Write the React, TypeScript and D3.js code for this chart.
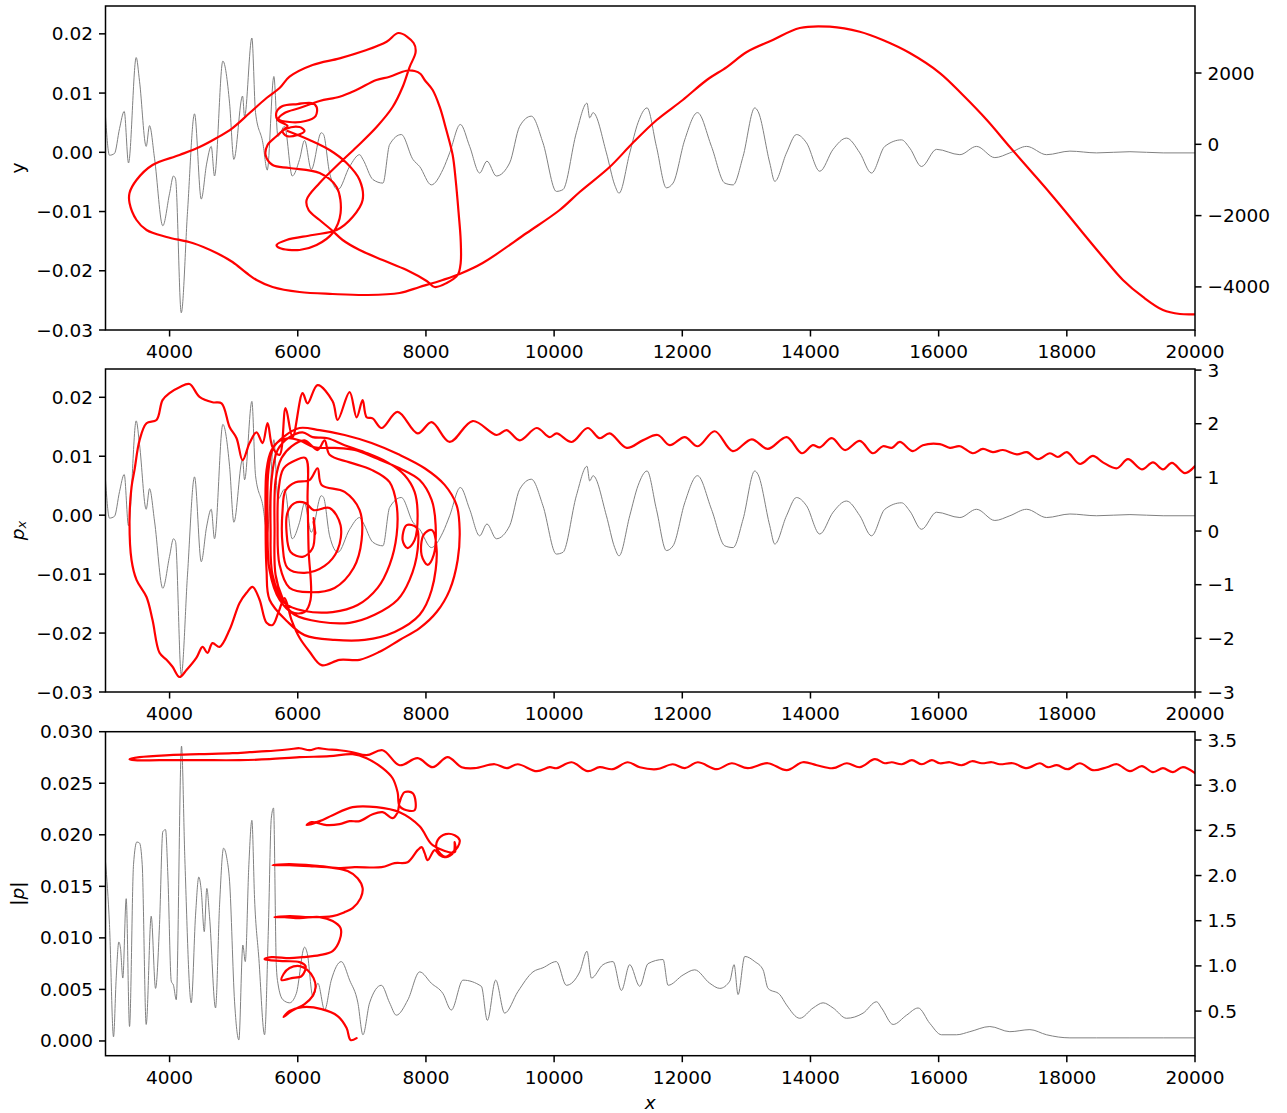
import React from 'react';
import * as d3 from 'd3';

const W = 1287;
const H = 1113;
const X0 = 105.5;
const X1 = 1195;

const xTickValues = [4000, 6000, 8000, 10000, 12000, 14000, 16000, 18000, 20000];

// y(x) signal, shown in grey in the top two panels (left axis)
const ySignal: [number, number][] = [
  [3000, 0.006], [3062, -0.0005], [3140, -0.0002], [3219, 0.004], [3292, 0.0069], [3359, -0.0018],
  [3479, 0.016], [3531, 0.012], [3635, 0.001], [3687, 0.0045], [3765, -0.001], [3894, -0.0124],
  [3999, -0.007], [4061, -0.004], [4093, -0.0045], [4182, -0.0271], [4280, -0.01], [4389, 0.0065],
  [4494, -0.0079], [4577, -0.002], [4650, 0.001], [4701, -0.004], [4831, 0.0154], [4936, 0.0083],
  [5003, -0.0012], [5139, 0.0095], [5170, 0.006], [5284, 0.0193], [5341, 0.0067], [5455, 0.0016],
  [5524, -0.003], [5627, 0.0128], [5690, 0.0027], [5794, 0.0044], [5914, -0.004], [6028, -0.0012],
  [6106, 0.002], [6211, -0.0029], [6367, 0.0033], [6403, 0.003], [6497, -0.0035], [6626, -0.0063],
  [6809, -0.0024], [6965, -0.0004], [7017, -0.0012], [7173, -0.0046], [7329, -0.0052], [7433, 0.0013],
  [7616, 0.003], [7797, -0.0012], [7902, -0.0024], [8084, -0.0055], [8265, -0.0029], [8370, -0.0001],
  [8537, 0.0047], [8682, 0.001], [8838, -0.0035], [8952, -0.0015], [9099, -0.004], [9306, -0.0018],
  [9463, 0.0044], [9645, 0.0061], [9826, 0.0016], [10035, -0.0066], [10138, -0.0063], [10347, 0.0033],
  [10513, 0.0083], [10555, 0.0058], [10607, 0.0067], [10816, -0.0001], [10945, -0.0055], [11013, -0.0069],
  [11180, -0.0001], [11309, 0.005], [11450, 0.0075], [11596, 0.001], [11752, -0.006], [11856, -0.0052],
  [12038, 0.0021], [12237, 0.0067], [12455, 0.001], [12663, -0.0052], [12792, -0.0055], [12948, -0.0007],
  [13131, 0.0075], [13182, 0.0069], [13365, -0.0018], [13443, -0.0049], [13626, -0.0001], [13782, 0.003],
  [13938, 0.0016], [14145, -0.0032], [14353, 0.0005], [14562, 0.0024], [14770, -0.0001], [14952, -0.0035],
  [15160, 0.001], [15421, 0.0021], [15550, 0.0007], [15733, -0.0024], [15967, 0.0005], [16331, -0.0004],
  [16591, 0.001], [16877, -0.0009], [17111, -0.0001], [17372, 0.001], [17684, -0.0004], [18048, 0.0002],
  [18465, -0.0001], [18985, 0.0001], [19504, -0.0001], [20000, -0.0001],
];

// |p|(x) signal, grey in the bottom panel (left axis)
const pSignal: [number, number][] = [
  [3000, 0.0174], [3062, 0.0113], [3125, 0.0004], [3167, 0.0061], [3208, 0.0096], [3234, 0.009],
  [3270, 0.0061], [3323, 0.0138], [3375, 0.0014], [3437, 0.0171], [3489, 0.0193], [3531, 0.0192],
  [3573, 0.0171], [3635, 0.0016], [3713, 0.0121], [3781, 0.0051], [3843, 0.0113], [3894, 0.0203],
  [3937, 0.0205], [3973, 0.0161], [4026, 0.0058], [4061, 0.0054], [4104, 0.004], [4186, 0.0286],
  [4238, 0.0177], [4338, 0.0037], [4405, 0.0122], [4456, 0.0159], [4494, 0.0146], [4541, 0.0106],
  [4581, 0.0148], [4623, 0.0121], [4717, 0.0032], [4780, 0.0132], [4842, 0.0187], [4894, 0.0177],
  [4936, 0.0155], [5014, 0.0038], [5081, 0.0001], [5143, 0.0093], [5181, 0.0077], [5237, 0.0171],
  [5284, 0.0214], [5326, 0.0138], [5393, 0.008], [5482, 0.0006], [5540, 0.0106], [5587, 0.0216],
  [5622, 0.0226], [5665, 0.0074], [5690, 0.0056], [5768, 0.004], [5872, 0.0037], [5977, 0.0046],
  [6106, 0.0091], [6148, 0.0085], [6236, 0.0043], [6314, 0.0056], [6419, 0.003], [6523, 0.0059],
  [6679, 0.0077], [6809, 0.0059], [6938, 0.0037], [7017, 0.0006], [7121, 0.0037], [7304, 0.0054],
  [7433, 0.0037], [7538, 0.0025], [7719, 0.004], [7902, 0.0067], [8084, 0.0056], [8265, 0.0046],
  [8396, 0.003], [8578, 0.0059], [8865, 0.0053], [8958, 0.002], [9088, 0.0059], [9228, 0.0027],
  [9436, 0.0048], [9670, 0.0067], [9826, 0.0071], [10035, 0.0077], [10191, 0.0054], [10399, 0.0067],
  [10513, 0.0087], [10582, 0.0061], [10763, 0.0074], [10919, 0.0077], [11050, 0.0049], [11180, 0.0074],
  [11336, 0.0053], [11465, 0.0075], [11700, 0.0079], [11778, 0.0054], [12012, 0.0064], [12194, 0.0069],
  [12428, 0.0056], [12585, 0.0051], [12741, 0.0058], [12808, 0.0074], [12870, 0.0045], [12975, 0.0082],
  [13131, 0.0077], [13260, 0.0069], [13338, 0.0051], [13521, 0.0045], [13626, 0.0035], [13833, 0.0022],
  [14041, 0.0032], [14197, 0.0037], [14353, 0.0032], [14562, 0.0022], [14821, 0.0027], [15031, 0.0038],
  [15109, 0.0032], [15290, 0.0016], [15499, 0.0025], [15680, 0.0032], [15863, 0.0017], [16045, 0.0006],
  [16280, 0.0006], [16487, 0.0009], [16799, 0.0014], [17111, 0.0009], [17424, 0.0011], [17684, 0.0006],
  [18048, 0.0003], [18465, 0.0003], [18985, 0.0003], [19504, 0.0003], [20000, 0.0003],
];

// trajectory in (x, y), red in the top panel (right axis)
const yOrbit: [number, number][] = [
  [5841, 373], [6184, 121], [6497, -160], [6762, -525], [6965, -1001], [7012, -1562], [6856, -2039],
  [6606, -2404], [6231, -2544], [5825, -2684], [5669, -2825], [5716, -2909], [6028, -2965], [6294, -2825],
  [6544, -2488], [6668, -1927], [6606, -1198], [6341, -805], [5872, -665], [5607, -581], [5498, -300],
  [5529, -20], [5654, 205], [5810, 429], [6028, 485], [6106, 373], [5997, 261], [5825, 233], [5763, 373],
  [5841, 513], [5685, 682], [5669, 906], [5763, 1074], [5997, 1130], [6216, 1158], [6294, 1046],
  [6278, 794], [6122, 654], [5872, 626], [5700, 710], [5794, 878], [6028, 1018], [6341, 1215],
  [6653, 1335], [6913, 1523], [7226, 1804], [7433, 1896], [7694, 2064], [7823, 2056], [7917, 1972],
  [7980, 1804], [8105, 1523], [8214, 1055], [8318, 401], [8417, -300], [8464, -1001], [8510, -1927],
  [8542, -2684], [8542, -3330], [8495, -3666], [8323, -3891], [8136, -4003], [8011, -3834], [7699, -3526],
  [7324, -3245], [6965, -2965], [6700, -2684], [6528, -2404], [6341, -2123], [6169, -1843], [6138, -1562],
  [6341, -1086], [6653, -525], [6918, -76], [7230, 485], [7480, 1046], [7636, 1607], [7745, 2168],
  [7839, 2589], [7808, 2842], [7574, 3122], [7386, 2878], [7074, 2645], [6653, 2412], [6231, 2224],
  [5872, 1896], [5716, 1579], [5513, 1299], [5248, 878], [4982, 457], [4733, 177], [4467, -76],
  [4155, -300], [3734, -581], [3484, -1001], [3375, -1366], [3375, -1647], [3484, -2123], [3640, -2404],
  [3952, -2600], [4358, -2769], [4733, -3049], [4982, -3302], [5201, -3610], [5357, -3806], [5607, -4003],
  [6028, -4143], [6544, -4199], [7074, -4227], [7589, -4171], [7902, -4003], [8261, -3806], [8526, -3638],
  [8885, -3330], [9572, -2488], [10087, -1843], [10399, -1338], [10867, -637], [11226, 36], [11601, 682],
  [12007, 1243], [12382, 1804], [12694, 2168], [13006, 2589], [13412, 2926], [13833, 3262], [14302, 3299],
  [14770, 3158], [15129, 2926], [15550, 2561], [16019, 2000], [16378, 1383], [16752, 682], [17111, -76],
  [17424, -721], [17736, -1366], [18048, -2039], [18251, -2488], [18563, -3161], [18875, -3806],
  [19188, -4283], [19500, -4648], [19765, -4760], [20000, -4769],
];

// trajectory in (x, p_x), red in the middle panel (right axis)
const pxOrbit: [number, number][] = [
  [6247, 0.24], [6278, -0.06], [6247, 0.17], [6262, 0.02],
  [6231, -0.32], [6075, -0.48], [5888, -0.39], [5825, -0.02], [5841, 0.35], [5950, 0.52], [6122, 0.52], [6247, 0.39],
  [6497, 0.43], [6668, 0.11], [6622, -0.35], [6419, -0.65], [6106, -0.78], [5841, -0.69], [5763, -0.26],
  [5763, 0.39], [5810, 0.76], [5966, 0.91], [6184, 0.95], [6309, 1.17], [6372, 0.86],
  [6731, 0.73], [6965, 0.39], [6996, -0.17], [6871, -0.69], [6575, -1.06], [6184, -1.14], [5872, -1.06],
  [5716, -0.63], [5685, 0.11], [5700, 0.76], [5779, 1.17], [5966, 1.32], [6122, 1.36],
  [6153, 0.58], [6169, -0.35], [6200, -1.28], [6106, -1.51], [5903, -1.51], [5763, -1.25],
  [5654, -0.82], [5638, 0.02], [5654, 0.95], [5747, 1.36], [5903, 1.58], [6106, 1.69], [6309, 1.51],
  [6419, 1.69], [6497, 1.42], [6809, 1.28], [7152, 1.14], [7433, 0.91], [7543, 0.48], [7543, -0.07],
  [7433, -0.63], [7246, -1.06], [6934, -1.38], [6544, -1.51], [6106, -1.49],
  [5794, -1.34], [5607, -0.82], [5576, 0.02], [5591, 0.95], [5685, 1.51], [5872, 1.75], [6075, 1.84],
  [6231, 1.75], [6466, 1.73], [6731, 1.6], [7043, 1.47], [7402, 1.28], [7667, 1.04], [7823, 0.73],
  [7870, 0.3], [7823, -0.17], [7714, -0.32], [7636, -0.17], [7699, 0.11], [7855, 0.06], [7870, -0.35],
  [7745, -0.91], [7558, -1.28], [7199, -1.56], [6809, -1.71], [6341, -1.69], [5950, -1.56], [5716, -1.28],
  [5560, -0.73], [5529, 0.2], [5544, 1.14], [5638, 1.6], [5841, 1.73], [6028, 1.69], [6262, 1.56],
  [6575, 1.55], [6887, 1.51], [7215, 1.36], [7589, 1.17], [7902, 0.95], [8089, 0.58], [8151, 0.11],
  [8120, -0.45], [8027, -0.63], [7933, -0.45], [7964, -0.07], [8089, 0.02], [8167, -0.35], [8089, -1.1],
  [7902, -1.56], [7511, -1.88], [7043, -2.03], [6575, -2.03], [6106, -1.94], [5841, -1.69],
  [5560, -1.28], [5513, -0.73], [5498, 0.2], [5513, 1.14], [5591, 1.51], [5794, 1.77], [6028, 1.92],
  [6341, 1.88], [6731, 1.79], [7152, 1.64], [7589, 1.42], [7980, 1.17], [8292, 0.86], [8479, 0.48],
  [8526, 0.02], [8495, -0.54], [8370, -1.1], [8167, -1.51], [7902, -1.81], [7589, -2.03], [7277, -2.25],
  [6965, -2.4], [6653, -2.4], [6372, -2.5], [6184, -2.25], [6028, -1.99], [5903, -1.66], [5794, -1.25],
  [5700, -1.51], [5607, -1.75], [5513, -1.71], [5404, -1.28], [5295, -1.04], [5201, -1.15], [5092, -1.34],
  [4936, -1.84], [4780, -2.16], [4670, -2.09], [4592, -2.27], [4514, -2.16], [4420, -2.36], [4264, -2.59],
  [4155, -2.72], [4046, -2.53], [3952, -2.4], [3843, -2.27], [3734, -1.66], [3640, -1.23], [3484, -0.91],
  [3406, -0.54], [3375, 0.2], [3406, 0.82], [3453, 1.14], [3531, 1.69], [3640, 2.01], [3796, 2.07],
  [3890, 2.44], [3999, 2.57], [4155, 2.68], [4311, 2.74], [4467, 2.5], [4670, 2.4], [4811, 2.38],
  [4936, 1.94], [5045, 1.73], [5139, 1.32], [5248, 1.64], [5357, 1.84], [5451, 1.64], [5529, 2.01],
  [5607, 1.56], [5716, 1.42], [5810, 2.29], [5919, 1.75], [6075, 2.57], [6153, 2.38], [6309, 2.72],
  [6544, 2.42], [6622, 2.07], [6809, 2.59], [6918, 2.12], [7012, 2.44], [7074, 2.12], [7168, 2.1],
  [7308, 1.92], [7558, 2.22], [7870, 1.82], [8089, 2.03], [8370, 1.66], [8729, 2.05], [9104, 1.79],
  [9260, 1.88], [9463, 1.69], [9728, 1.92], [9931, 1.75], [10040, 1.82], [10274, 1.66], [10524, 1.92],
  [10711, 1.73], [10867, 1.82], [11133, 1.55], [11383, 1.69], [11617, 1.79], [11804, 1.6], [12038, 1.75],
  [12241, 1.58], [12506, 1.86], [12787, 1.49], [13084, 1.71], [13334, 1.53], [13630, 1.75], [13865, 1.45],
  [14036, 1.6], [14145, 1.56], [14333, 1.73], [14536, 1.51], [14770, 1.68], [14973, 1.45], [15129, 1.58],
  [15270, 1.55], [15394, 1.66], [15597, 1.49], [15753, 1.6], [16019, 1.62], [16175, 1.55], [16331, 1.58],
  [16534, 1.45], [16690, 1.53], [16846, 1.47], [17002, 1.51], [17221, 1.43], [17377, 1.47], [17549, 1.34],
  [17736, 1.45], [17861, 1.38], [18001, 1.47], [18204, 1.25], [18407, 1.4], [18563, 1.28], [18782, 1.17],
  [18954, 1.34], [19172, 1.15], [19344, 1.28], [19500, 1.15], [19640, 1.27], [19843, 1.08], [20000, 1.21],
];

// trajectory in (x, |p|), red in the bottom panel (right axis)
const pOrbit: [number, number][] = [
  [6918, 0.201], [6824, 0.179], [6762, 0.312], [6622, 0.445], [6372, 0.522], [6075, 0.544], [5872, 0.5],
  [5779, 0.434], [5903, 0.5], [6106, 0.577], [6231, 0.666], [6278, 0.766], [6247, 0.865], [6153, 0.954],
  [6028, 0.998], [5872, 0.976], [5779, 0.91], [5747, 0.843], [5903, 0.865], [6060, 0.887], [6122, 0.998],
  [6028, 1.042], [5794, 1.053], [5560, 1.064], [5482, 1.075], [5591, 1.097], [5872, 1.086], [6075, 1.097],
  [6341, 1.119], [6544, 1.164], [6653, 1.285], [6668, 1.418], [6544, 1.496], [6341, 1.54], [6028, 1.529],
  [5794, 1.54], [5638, 1.54], [5872, 1.551], [6184, 1.54], [6544, 1.551], [6731, 1.595], [6856, 1.64],
  [6981, 1.75], [7012, 1.861], [6934, 1.971], [6778, 2.049], [6575, 2.082], [6184, 2.104], [5872, 2.115],
  [5607, 2.115], [5872, 2.126], [6341, 2.104], [6668, 2.082], [6887, 2.093], [7308, 2.093], [7511, 2.137],
  [7714, 2.148], [7870, 2.281], [7933, 2.314], [7980, 2.248], [8027, 2.17], [8136, 2.281], [8214, 2.226],
  [8292, 2.204], [8401, 2.248], [8495, 2.314], [8526, 2.392], [8448, 2.447], [8308, 2.458], [8183, 2.392],
  [8167, 2.303], [8308, 2.204], [8433, 2.259], [8448, 2.369], [8448, 2.259], [8105, 2.336], [7902, 2.546],
  [7589, 2.701], [7230, 2.757], [6856, 2.757], [6544, 2.668], [6341, 2.602], [6138, 2.558], [6216, 2.591],
  [6450, 2.558], [6653, 2.569], [6809, 2.602], [6965, 2.602], [7168, 2.679], [7324, 2.701], [7480, 2.635],
  [7558, 2.701], [7589, 2.812], [7667, 2.923], [7792, 2.912], [7839, 2.812], [7823, 2.723], [7699, 2.723],
  [7589, 2.768], [7558, 2.923], [7480, 3.077], [7324, 3.188], [7074, 3.299], [6856, 3.343], [6497, 3.321],
  [6028, 3.31], [5560, 3.288], [5092, 3.277], [4467, 3.277], [3843, 3.277], [3453, 3.277], [3375, 3.288],
  [3531, 3.31], [3999, 3.332], [4467, 3.343], [4982, 3.354], [5248, 3.365], [5513, 3.376], [5872, 3.398],
  [6028, 3.409], [6184, 3.387], [6309, 3.409], [6450, 3.398], [6653, 3.387], [6856, 3.365], [7074, 3.332],
  [7324, 3.387], [7589, 3.221], [7870, 3.299], [8105, 3.199], [8339, 3.31], [8557, 3.199], [8760, 3.188],
  [9073, 3.232], [9260, 3.188], [9432, 3.232], [9728, 3.155], [9931, 3.199], [10040, 3.188], [10274, 3.254],
  [10524, 3.155], [10711, 3.199], [10914, 3.177], [11148, 3.254], [11336, 3.199], [11601, 3.177],
  [11851, 3.232], [12038, 3.188], [12241, 3.254], [12538, 3.177], [12772, 3.243], [13022, 3.188],
  [13334, 3.243], [13630, 3.166], [13880, 3.254], [14099, 3.221], [14349, 3.188], [14567, 3.243],
  [14770, 3.199], [15004, 3.288], [15160, 3.243], [15269, 3.254], [15426, 3.232], [15582, 3.277],
  [15738, 3.232], [15894, 3.277], [16019, 3.243], [16175, 3.254], [16362, 3.221], [16518, 3.265],
  [16674, 3.243], [16830, 3.254], [16955, 3.232], [17158, 3.243], [17377, 3.188], [17580, 3.243],
  [17705, 3.199], [17845, 3.221], [18017, 3.177], [18204, 3.243], [18407, 3.166], [18626, 3.199],
  [18782, 3.232], [18985, 3.155], [19172, 3.21], [19344, 3.144], [19500, 3.188], [19656, 3.144],
  [19812, 3.199], [20000, 3.133],
];

const yLeftTicks = [0.02, 0.01, 0, -0.01, -0.02, -0.03];
const yRightTicks = [2000, 0, -2000, -4000];
const pxRightTicks = [3, 2, 1, 0, -1, -2, -3];
const pLeftTicks = [0, 0.005, 0.01, 0.015, 0.02, 0.025, 0.03];
const pRightTicks = [0.5, 1.0, 1.5, 2.0, 2.5, 3.0, 3.5];

const FONT = 'DejaVu Sans, Liberation Sans, sans-serif';
const FS = 18.5;
const TICK = 6.5;

type Panel = {
  id: string;
  top: number;
  bottom: number;
  leftDomain: [number, number];
  rightDomain: [number, number];
  leftTicks: number[];
  rightTicks: number[];
  leftFmt: (v: number) => string;
  rightFmt: (v: number) => string;
  gray: [number, number][];
  red: [number, number][];
  label: React.ReactNode;
};

export default function App() {
  const x = d3.scaleLinear().domain([3000, 20000]).range([X0, X1]);

  const panels: Panel[] = [
    {
      id: 'py', top: 6, bottom: 330,
      leftDomain: [-0.03, 0.0247], rightDomain: [-5209, 3880],
      leftTicks: yLeftTicks, rightTicks: yRightTicks,
      leftFmt: d3.format('.2f'), rightFmt: d3.format('d'),
      gray: ySignal, red: yOrbit,
      label: <tspan>y</tspan>,
    },
    {
      id: 'ppx', top: 369, bottom: 692,
      leftDomain: [-0.03, 0.0248], rightDomain: [-3, 3.02],
      leftTicks: yLeftTicks, rightTicks: pxRightTicks,
      leftFmt: d3.format('.2f'), rightFmt: d3.format('d'),
      gray: ySignal, red: pxOrbit,
      label: (
        <>
          <tspan fontStyle="italic">p</tspan>
          <tspan fontStyle="italic" fontSize={13} dy={4}>x</tspan>
        </>
      ),
    },
    {
      id: 'pp', top: 731.7, bottom: 1055.7,
      leftDomain: [-0.00143, 0.03], rightDomain: [0.006, 3.592],
      leftTicks: pLeftTicks, rightTicks: pRightTicks,
      leftFmt: d3.format('.3f'), rightFmt: d3.format('.1f'),
      gray: pSignal, red: pOrbit,
      label: (
        <>
          <tspan>|</tspan>
          <tspan fontStyle="italic">p</tspan>
          <tspan>|</tspan>
        </>
      ),
    },
  ];

  return (
    <svg
      width={W}
      height={H}
      viewBox={`0 0 ${W} ${H}`}
      style={{ position: 'absolute', left: 0, top: 0, background: '#fff' }}
      fontFamily={FONT}
    >
      <rect x={0} y={0} width={W} height={H} fill="#fff" />
      {panels.map((p) => {
        const yL = d3.scaleLinear().domain(p.leftDomain).range([p.bottom, p.top]);
        const yR = d3.scaleLinear().domain(p.rightDomain).range([p.bottom, p.top]);
        const grayLine = d3
          .line<[number, number]>()
          .x((d) => x(d[0]))
          .y((d) => yL(d[1]))
          .curve(d3.curveMonotoneX);
        const redLine = d3
          .line<[number, number]>()
          .x((d) => x(d[0]))
          .y((d) => yR(d[1]))
          .curve(d3.curveCatmullRom.alpha(0.5));
        const midY = (p.top + p.bottom) / 2;
        return (
          <g key={p.id}>
            <defs>
              <clipPath id={`clip-${p.id}`}>
                <rect x={X0} y={p.top} width={X1 - X0} height={p.bottom - p.top} />
              </clipPath>
            </defs>
            <g clipPath={`url(#clip-${p.id})`}>
              <path d={grayLine(p.gray) || ''} fill="none" stroke="#808080" strokeWidth={1} />
              <path
                d={redLine(p.red) || ''}
                fill="none"
                stroke="#ff0000"
                strokeWidth={2.2}
                strokeLinejoin="round"
                strokeLinecap="round"
              />
            </g>
            <rect
              x={X0}
              y={p.top}
              width={X1 - X0}
              height={p.bottom - p.top}
              fill="none"
              stroke="#000"
              strokeWidth={1.5}
            />
            {p.leftTicks.map((t) => (
              <g key={`l${t}`}>
                <line x1={X0 - TICK} x2={X0} y1={yL(t)} y2={yL(t)} stroke="#000" strokeWidth={1.5} />
                <text
                  x={X0 - TICK - 6}
                  y={yL(t)}
                  textAnchor="end"
                  dominantBaseline="central"
                  fontSize={FS}
                >
                  {p.leftFmt(t)}
                </text>
              </g>
            ))}
            {p.rightTicks.map((t) => (
              <g key={`r${t}`}>
                <line x1={X1} x2={X1 + TICK} y1={yR(t)} y2={yR(t)} stroke="#000" strokeWidth={1.5} />
                <text
                  x={X1 + TICK + 6}
                  y={yR(t)}
                  textAnchor="start"
                  dominantBaseline="central"
                  fontSize={FS}
                >
                  {p.rightFmt(t)}
                </text>
              </g>
            ))}
            {xTickValues.map((t) => (
              <g key={`b${t}`}>
                <line x1={x(t)} x2={x(t)} y1={p.bottom} y2={p.bottom + TICK} stroke="#000" strokeWidth={1.5} />
                <text
                  x={x(t)}
                  y={p.bottom + TICK + 15}
                  textAnchor="middle"
                  dominantBaseline="central"
                  fontSize={FS}
                >
                  {d3.format('d')(t)}
                </text>
              </g>
            ))}
            <text
              transform={`translate(17,${midY}) rotate(-90)`}
              textAnchor="middle"
              dominantBaseline="central"
              fontSize={FS}
            >
              {p.label}
            </text>
          </g>
        );
      })}
      <text
        x={(X0 + X1) / 2}
        y={1102}
        textAnchor="middle"
        dominantBaseline="central"
        fontSize={FS}
        fontStyle="italic"
      >
        x
      </text>
    </svg>
  );
}
